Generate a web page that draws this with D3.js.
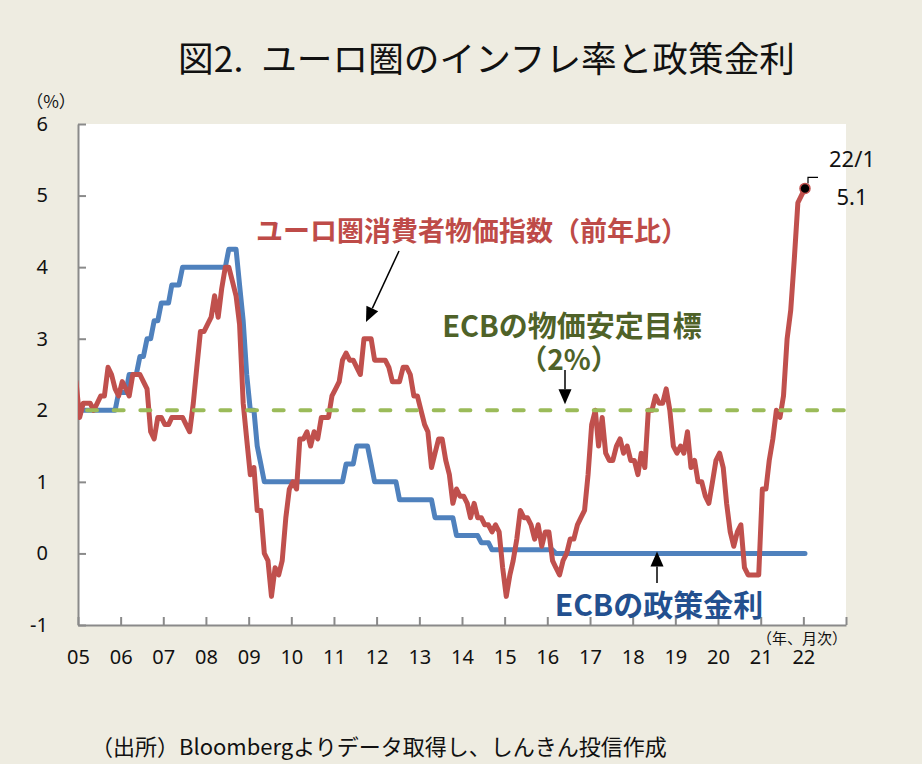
<!DOCTYPE html>
<html>
<head>
<meta charset="utf-8">
<script src="https://cdn.jsdelivr.net/npm/d3@7"></script>
<style>
  body { margin: 0; background: #eeece1; }
  svg { display: block; }
  text { font-family: "Noto Sans", "Noto Sans CJK JP", sans-serif; }
</style>
</head>
<body>
<svg id="chart" width="922" height="764"></svg>
<script>
// ユーロ圏HICP（前年比、%）2004年12月〜2022年1月
var cpi = [
  2.4,
  1.9, 2.1, 2.1, 2.1, 2.0, 2.1, 2.2, 2.2, 2.6, 2.5, 2.3, 2.2,
  2.4, 2.3, 2.2, 2.5, 2.5, 2.5, 2.4, 2.3, 1.7, 1.6, 1.9, 1.9,
  1.8, 1.8, 1.9, 1.9, 1.9, 1.9, 1.8, 1.7, 2.1, 2.6, 3.1, 3.1,
  3.2, 3.3, 3.6, 3.3, 3.7, 4.0, 4.0, 3.8, 3.6, 3.2, 2.1, 1.6,
  1.1, 1.2, 0.6, 0.6, 0.0, -0.1, -0.6, -0.2, -0.3, -0.1, 0.5, 0.9,
  1.0, 0.9, 1.6, 1.6, 1.7, 1.5, 1.7, 1.6, 1.9, 1.9, 1.9, 2.2,
  2.3, 2.4, 2.7, 2.8, 2.7, 2.7, 2.6, 2.5, 3.0, 3.0, 3.0, 2.7,
  2.7, 2.7, 2.7, 2.6, 2.4, 2.4, 2.4, 2.6, 2.6, 2.5, 2.2, 2.2,
  2.0, 1.8, 1.7, 1.2, 1.4, 1.6, 1.6, 1.3, 1.1, 0.7, 0.9, 0.8,
  0.8, 0.7, 0.5, 0.7, 0.5, 0.5, 0.4, 0.4, 0.3, 0.4, 0.3, -0.2,
  -0.6, -0.3, -0.1, 0.2, 0.6, 0.5, 0.5, 0.4, 0.2, 0.4, 0.1, 0.3,
  0.3, -0.1, -0.2, -0.3, -0.1, 0.0, 0.2, 0.2, 0.4, 0.5, 0.6, 1.1,
  1.8, 2.0, 1.5, 1.9, 1.4, 1.3, 1.3, 1.5, 1.6, 1.4, 1.5, 1.3,
  1.3, 1.1, 1.4, 1.2, 2.0, 2.0, 2.2, 2.1, 2.1, 2.3, 2.0, 1.5,
  1.4, 1.5, 1.4, 1.7, 1.2, 1.3, 1.0, 1.0, 0.8, 0.7, 1.0, 1.3,
  1.4, 1.2, 0.7, 0.3, 0.1, 0.3, 0.4, -0.2, -0.3, -0.3, -0.3, -0.3,
  0.9, 0.9, 1.3, 1.6, 2.0, 1.9, 2.2, 3.0, 3.4, 4.1, 4.9, 5.0,
  5.1
];

// ECB主要政策金利（%）同期間
var ecbRate = [
  2.0,
  2.0, 2.0, 2.0, 2.0, 2.0, 2.0, 2.0, 2.0, 2.0, 2.0, 2.0, 2.25,
  2.25, 2.25, 2.5, 2.5, 2.5, 2.75, 2.75, 3.0, 3.0, 3.25, 3.25, 3.5,
  3.5, 3.5, 3.75, 3.75, 3.75, 4.0, 4.0, 4.0, 4.0, 4.0, 4.0, 4.0,
  4.0, 4.0, 4.0, 4.0, 4.0, 4.0, 4.25, 4.25, 4.25, 3.75, 3.25, 2.5,
  2.0, 2.0, 1.5, 1.25, 1.0, 1.0, 1.0, 1.0, 1.0, 1.0, 1.0, 1.0,
  1.0, 1.0, 1.0, 1.0, 1.0, 1.0, 1.0, 1.0, 1.0, 1.0, 1.0, 1.0,
  1.0, 1.0, 1.0, 1.25, 1.25, 1.25, 1.5, 1.5, 1.5, 1.5, 1.25, 1.0,
  1.0, 1.0, 1.0, 1.0, 1.0, 1.0, 0.75, 0.75, 0.75, 0.75, 0.75, 0.75,
  0.75, 0.75, 0.75, 0.75, 0.5, 0.5, 0.5, 0.5, 0.5, 0.5, 0.25, 0.25,
  0.25, 0.25, 0.25, 0.25, 0.25, 0.15, 0.15, 0.15, 0.05, 0.05, 0.05, 0.05,
  0.05, 0.05, 0.05, 0.05, 0.05, 0.05, 0.05, 0.05, 0.05, 0.05, 0.05, 0.05,
  0.05, 0.05, 0, 0, 0, 0, 0, 0, 0, 0, 0, 0,
  0, 0, 0, 0, 0, 0, 0, 0, 0, 0, 0, 0,
  0, 0, 0, 0, 0, 0, 0, 0, 0, 0, 0, 0,
  0, 0, 0, 0, 0, 0, 0, 0, 0, 0, 0, 0,
  0, 0, 0, 0, 0, 0, 0, 0, 0, 0, 0, 0,
  0, 0, 0, 0, 0, 0, 0, 0, 0, 0, 0, 0,
  0
];

var targetRate = 2;   // ECBの物価安定目標
var yTicks = [-1, 0, 1, 2, 3, 4, 5, 6];
var yearLabels = ['05','06','07','08','09','10','11','12','13','14','15','16','17','18','19','20','21','22'];

// 月次の日付（各月15日に置く）
var months = cpi.map(function(d, i){
  return new Date(2004, 11 + i, 15);
});

var svg = d3.select('#chart');

var plot = { left: 78, top: 124, right: 846, bottom: 625 };

var xScale = d3.scaleTime()
  .domain([new Date(2005, 0, 1), new Date(2023, 0, 1)])
  .range([plot.left, plot.right]);

var yScale = d3.scaleLinear()
  .domain([-1, 6])
  .range([plot.bottom, plot.top]);

// タイトル
svg.append('text')
  .attr('x', 178).attr('y', 56)
  .attr('dominant-baseline', 'central')
  .attr('textLength', 617)
  .attr('lengthAdjust', 'spacingAndGlyphs')
  .style('font-family', '"Noto Sans CJK JP"')
  .style('font-size', '35px')
  .attr('fill', '#111')
  .text('図2.\u2002ユーロ圏のインフレ率と政策金利');

// プロットエリア
svg.append('rect')
  .attr('x', plot.left).attr('y', plot.top)
  .attr('width', plot.right - plot.left)
  .attr('height', plot.bottom - plot.top)
  .attr('fill', '#fff');

svg.append('clipPath').attr('id', 'clip')
  .append('rect')
  .attr('x', plot.left).attr('y', 0)
  .attr('width', plot.right - plot.left)
  .attr('height', plot.bottom);

// 軸
var yAxis = d3.axisLeft(yScale)
  .tickValues(yTicks)
  .tickSizeInner(-8)
  .tickSizeOuter(0)
  .tickPadding(30)
  .tickFormat(function(d){ return String(d); });

var yearTicks = d3.range(2005, 2024).map(function(y){ return new Date(y, 0, 1); });
var xAxis = d3.axisBottom(xScale)
  .tickValues(yearTicks)
  .tickSizeInner(-8)
  .tickSizeOuter(0)
  .tickPadding(25)
  .tickFormat(function(d, i){ return yearLabels[i] || ''; });

var gy = svg.append('g')
  .attr('class', 'y-axis')
  .attr('transform', 'translate(' + plot.left + ',0)')
  .call(yAxis);

var gx = svg.append('g')
  .attr('class', 'x-axis')
  .attr('transform', 'translate(0,' + plot.bottom + ')')
  .call(xAxis);

[gx, gy].forEach(function(g){
  g.selectAll('path, line').attr('stroke', '#8a8a8a').attr('stroke-width', 2);
  g.selectAll('text').attr('fill', '#111').style('font-size', '20px');
});

// 系列
var line = d3.line()
  .x(function(d){ return xScale(d.date); })
  .y(function(d){ return yScale(d.value); });

var rateData = months.map(function(m, i){ return { date: m, value: ecbRate[i] }; });
var cpiData = months.map(function(m, i){ return { date: m, value: cpi[i] }; });

var series = svg.append('g').attr('clip-path', 'url(#clip)');

series.append('path')
  .datum(rateData)
  .attr('d', line)
  .attr('fill', 'none')
  .attr('stroke', '#4f81bd')
  .attr('stroke-width', 5)
  .attr('stroke-linejoin', 'round')
  .attr('stroke-linecap', 'round');

series.append('path')
  .datum(cpiData)
  .attr('d', line)
  .attr('fill', 'none')
  .attr('stroke', '#c0504d')
  .attr('stroke-width', 5)
  .attr('stroke-linejoin', 'round')
  .attr('stroke-linecap', 'round');

series.append('path')
  .datum([
    { date: xScale.domain()[0], value: targetRate },
    { date: xScale.domain()[1], value: targetRate }
  ])
  .attr('d', line)
  .attr('fill', 'none')
  .attr('stroke', '#9bbb59')
  .attr('stroke-width', 4)
  .attr('stroke-linecap', 'round')
  .attr('stroke-dasharray', '10,16.67')
  .attr('stroke-dashoffset', 17.67);

// 最新値のマーカー
var last = cpiData[cpiData.length - 1];
var lx = xScale(last.date), ly = yScale(last.value);
svg.append('path')
  .attr('d', 'M' + (lx + 3) + ',' + (ly - 5) + 'V' + (ly - 11) + 'H' + (lx + 13))
  .attr('fill', 'none')
  .attr('stroke', '#000')
  .attr('stroke-width', 1.2);
svg.append('circle')
  .attr('cx', lx).attr('cy', ly).attr('r', 5)
  .attr('fill', '#000')
  .attr('stroke', '#c0504d')
  .attr('stroke-width', 1.5);

svg.append('text')
  .attr('x', 852).attr('y', 158)
  .attr('text-anchor', 'middle').attr('dominant-baseline', 'central')
  .style('font-size', '22px').attr('fill', '#111')
  .text('22/1');
svg.append('text')
  .attr('x', 852).attr('y', 196)
  .attr('text-anchor', 'middle').attr('dominant-baseline', 'central')
  .style('font-size', '22px').attr('fill', '#111')
  .text(d3.format('.1f')(last.value));

// 矢印
function arrow(x1, y1, x2, y2){
  var a = Math.atan2(y2 - y1, x2 - x1);
  var len = 15, half = 6.5;
  var bx = x2 - len * Math.cos(a), by = y2 - len * Math.sin(a);
  svg.append('line')
    .attr('x1', x1).attr('y1', y1).attr('x2', bx).attr('y2', by)
    .attr('stroke', '#000').attr('stroke-width', 1.5);
  svg.append('path')
    .attr('d', 'M' + x2 + ',' + y2 +
      'L' + (bx + half * Math.sin(a)) + ',' + (by - half * Math.cos(a)) +
      'L' + (bx - half * Math.sin(a)) + ',' + (by + half * Math.cos(a)) + 'Z')
    .attr('fill', '#000');
}

arrow(399, 251, 366, 322);
arrow(565, 370, 565, yScale(targetRate) - 6);
arrow(657, 583, 657, yScale(0) - 2);

// 注記
function label(x, y, txt, size, color, weight, anchor){
  return svg.append('text')
    .attr('x', x).attr('y', y)
    .attr('text-anchor', anchor || 'middle')
    .attr('dominant-baseline', 'central')
    .style('font-family', '"Noto Sans CJK JP"')
    .style('font-size', size + 'px')
    .style('font-weight', weight || 400)
    .attr('fill', color)
    .text(txt);
}

label(472, 229, 'ユーロ圏消費者物価指数（前年比）', 27, '#be4b48', 700);
label(572, 324, 'ECBの物価安定目標', 29, '#4f6228', 700);
label(569, 358, '（2%）', 28, '#4f6228', 700);
label(659, 603, 'ECBの政策金利', 30, '#23508f', 700);

label(51, 100, '（%）', 17, '#111');
label(802, 637, '（年、月次）', 15, '#111');
label(91, 745, '（出所）Bloombergよりデータ取得し、しんきん投信作成', 22, '#111', 400, 'start');
</script>
</body>
</html>
